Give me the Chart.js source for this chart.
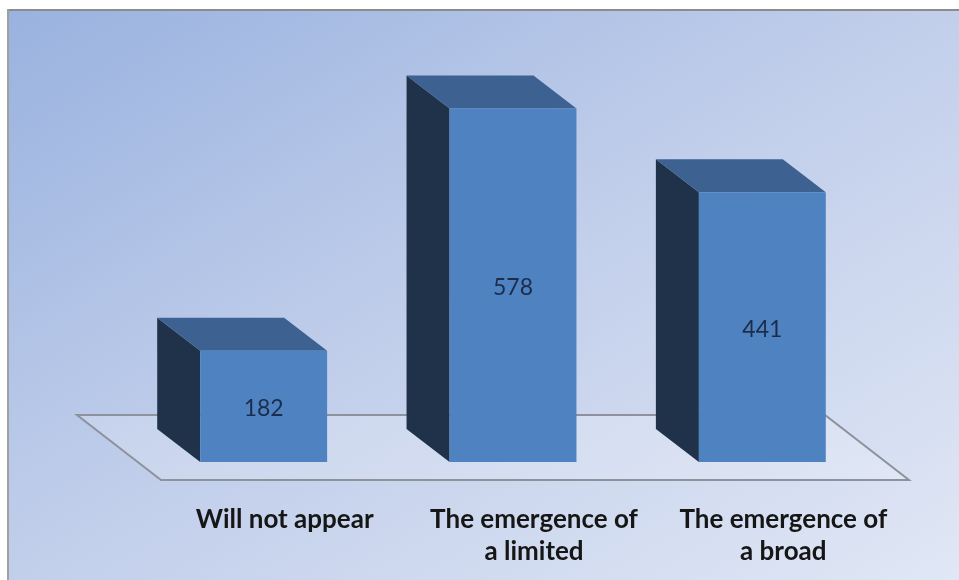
<!DOCTYPE html>
<html>
<head>
<meta charset="utf-8">
<script src="https://cdn.jsdelivr.net/npm/chart.js@4.4.1/dist/chart.umd.min.js"></script>
<style>
  html, body { margin: 0; padding: 0; background: #ffffff; }
  #wrap { width: 959px; height: 580px; position: relative; }
</style>
</head>
<body>
<div id="wrap"><canvas id="c" width="959" height="580"></canvas></div>
<script>
const categories = [
  ['Will not appear'],
  ['The emergence of', 'a limited'],
  ['The emergence of', 'a broad']
];
const values = [182, 578, 441];
const yMax = 700;

const FRONT = '#4f82c0';
const SIDE = '#1f3249';
const TOP = '#3d6190';
const BAR_DEPTH = { dx: -43, dy: -33 };
const FLOOR_FRONT = { dx: 22, dy: 18 };
const FLOOR_BACK = { dx: -62, dy: -47 };

const bgPlugin = {
  id: 'bg',
  beforeDraw(chart) {
    const ctx = chart.ctx;
    const W = chart.width, H = chart.height;
    ctx.save();
    ctx.fillStyle = '#ffffff';
    ctx.fillRect(0, 0, W, H);
    const g = ctx.createLinearGradient(9, 10, 511, 847);
    g.addColorStop(0, '#99b2df');
    g.addColorStop(0.5, '#c2cfeb');
    g.addColorStop(1, '#e0e7f5');
    ctx.fillStyle = g;
    ctx.fillRect(9, 10, W - 9, H - 10);
    ctx.fillStyle = '#8c8c8c';
    ctx.fillRect(8, 9, W - 8, 2);
    ctx.fillStyle = '#a0a0a0';
    ctx.fillRect(7, 9, 2, H - 9);
    ctx.restore();
  }
};

const threeD = {
  id: 'threeD',
  beforeDatasetsDraw(chart) {
    const ctx = chart.ctx;
    const a = chart.chartArea;
    const yb = chart.scales.y.getPixelForValue(0);
    ctx.save();
    ctx.beginPath();
    ctx.moveTo(a.left + FLOOR_BACK.dx, yb + FLOOR_BACK.dy);
    ctx.lineTo(a.right + FLOOR_BACK.dx, yb + FLOOR_BACK.dy);
    ctx.lineTo(a.right + FLOOR_FRONT.dx, yb + FLOOR_FRONT.dy);
    ctx.lineTo(a.left + FLOOR_FRONT.dx, yb + FLOOR_FRONT.dy);
    ctx.closePath();
    ctx.fillStyle = 'rgba(255,255,255,0.18)';
    ctx.fill();
    ctx.strokeStyle = '#8d929c';
    ctx.lineWidth = 2;
    ctx.stroke();
    const meta = chart.getDatasetMeta(0);
    meta.data.forEach(bar => {
      const p = bar.getProps(['x', 'y', 'base', 'width'], true);
      const x0 = p.x - p.width / 2, x1 = p.x + p.width / 2;
      const top = p.y, bot = p.base;
      ctx.beginPath();
      ctx.moveTo(x0, top);
      ctx.lineTo(x0 + BAR_DEPTH.dx, top + BAR_DEPTH.dy);
      ctx.lineTo(x0 + BAR_DEPTH.dx, bot + BAR_DEPTH.dy);
      ctx.lineTo(x0, bot);
      ctx.closePath();
      ctx.fillStyle = SIDE;
      ctx.fill();
      ctx.beginPath();
      ctx.moveTo(x0, top);
      ctx.lineTo(x0 + BAR_DEPTH.dx, top + BAR_DEPTH.dy);
      ctx.lineTo(x1 + BAR_DEPTH.dx, top + BAR_DEPTH.dy);
      ctx.lineTo(x1, top);
      ctx.closePath();
      ctx.fillStyle = TOP;
      ctx.fill();
    });
    ctx.restore();
  },
  afterDatasetsDraw(chart) {
    const ctx = chart.ctx;
    const meta = chart.getDatasetMeta(0);
    ctx.save();
    ctx.font = '23px Lato, sans-serif';
    ctx.fillStyle = '#1b2d4b';
    ctx.textAlign = 'center';
    ctx.textBaseline = 'middle';
    meta.data.forEach((bar, i) => {
      const p = bar.getProps(['x', 'y', 'base'], true);
      ctx.fillText(String(values[i]), p.x, (p.y + p.base) / 2 + 2);
    });
    ctx.restore();
  }
};

new Chart(document.getElementById('c'), {
  type: 'bar',
  data: {
    labels: categories,
    datasets: [{
      data: values,
      backgroundColor: FRONT,
      borderWidth: 0,
      categoryPercentage: 1.0,
      barPercentage: 0.509
    }]
  },
  options: {
    responsive: false,
    animation: false,
    devicePixelRatio: 1,
    layout: { padding: { top: 34, left: 139, right: 72, bottom: 0 } },
    plugins: { legend: { display: false }, tooltip: { enabled: false } },
    scales: {
      x: {
        grid: { display: false, drawTicks: false },
        border: { display: false },
        afterFit(scale) { scale.height = 118; },
        ticks: {
          color: '#161616',
          font: { family: 'Lato', size: 26, weight: 'bold', lineHeight: 1.25 },
          padding: 41,
          labelOffset: 21,
          maxRotation: 0
        }
      },
      y: {
        display: false,
        min: 0,
        max: yMax
      }
    }
  },
  plugins: [bgPlugin, threeD]
});
</script>
</body>
</html>
